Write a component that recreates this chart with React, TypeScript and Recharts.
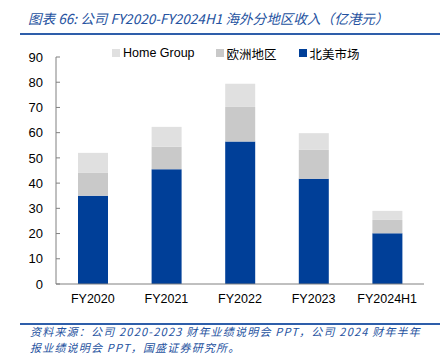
import React from 'react';
import { BarChart, Bar, XAxis, YAxis } from 'recharts';

const years = ['FY2020', 'FY2021', 'FY2022', 'FY2023', 'FY2024H1'];
const northAmerica = [35.0, 45.5, 56.5, 41.7, 20.1];
const europe = [9.2, 8.9, 13.7, 11.5, 5.3];
const homeGroup = [7.8, 7.9, 9.2, 6.6, 3.6];
const yTicks = [0, 10, 20, 30, 40, 50, 60, 70, 80, 90];

const BLUE = '#003f98';
const EU_GREY = '#c9c9c9';
const HG_GREY = '#e0e0e0';
const TEXT_BLUE = '#2552a0';
const SANS = '"Liberation Sans", Arial, sans-serif';
const CJK = '"Noto Sans CJK SC", sans-serif';

const data = years.map((y, i) => ({
  year: y,
  na: northAmerica[i],
  eu: europe[i],
  hg: homeGroup[i],
}));

const legendItems = [
  { name: 'Home Group', color: HG_GREY, font: SANS },
  { name: '欧洲地区', color: EU_GREY, font: CJK },
  { name: '北美市场', color: BLUE, font: CJK },
];

const sourceLines = [
  '资料来源：公司 2020-2023 财年业绩说明会 PPT，公司 2024 财年半年',
  '报业绩说明会 PPT，国盛证券研究所。',
];

const App = () => {
  return (
    <div style={{ position: 'fixed', left: 0, top: 0, width: 446, height: 355, background: '#fff' }}>
      <div
        style={{
          position: 'absolute', left: 28, top: 9, fontSize: 13.6, fontStyle: 'italic',
          color: TEXT_BLUE, fontFamily: CJK, whiteSpace: 'nowrap', lineHeight: '18px',
        }}
      >
        图表 66: 公司 FY2020-FY2024H1 海外分地区收入（亿港元）
      </div>
      <div style={{ position: 'absolute', left: 20, top: 33, width: 420, height: 2, background: '#2e5eaa' }} />

      <div style={{ position: 'absolute', left: 112, top: 45, display: 'flex', alignItems: 'center', height: 16 }}>
        {legendItems.map((it, i) => (
          <div key={it.name} style={{ display: 'flex', alignItems: 'center', marginRight: i === 0 ? 21 : 22 }}>
            <span style={{ width: 8, height: 8, background: it.color, display: 'inline-block', marginRight: 3 }} />
            <span style={{ fontFamily: it.font, fontSize: 12.5, color: '#000', whiteSpace: 'nowrap' }}>{it.name}</span>
          </div>
        ))}
      </div>

      <div style={{ position: 'absolute', left: 0, top: 0 }}>
        <BarChart width={446} height={320} data={data} margin={{ top: 57, right: 22, left: 26, bottom: 16 }}>
          <XAxis
            xAxisId="bounds"
            type="number"
            domain={[0, 5]}
            ticks={[0, 1, 2, 3, 4, 5]}
            tick={false}
            axisLine={false}
            tickSize={-4}
            height={0}
            stroke="#808080"
          />
          <XAxis
            dataKey="year"
            tickLine={false}
            tickSize={0}
            tickMargin={10}
            height={20}
            stroke="#808080"
            tick={{ fill: '#000', fontSize: 12.5, fontFamily: SANS }}
          />
          <YAxis
            domain={[0, 90]}
            ticks={yTicks}
            width={30}
            tickSize={-4}
            tickMargin={17}
            stroke="#808080"
            tick={{ fill: '#000', fontSize: 13, fontFamily: SANS }}
          />
          <Bar dataKey="na" stackId="a" fill={BLUE} barSize={30} isAnimationActive={false} />
          <Bar dataKey="eu" stackId="a" fill={EU_GREY} barSize={30} isAnimationActive={false} />
          <Bar dataKey="hg" stackId="a" fill={HG_GREY} barSize={30} isAnimationActive={false} />
        </BarChart>
      </div>

      <div style={{ position: 'absolute', left: 20, top: 323, width: 420, height: 2, background: '#2e5eaa' }} />
      {sourceLines.map((line, i) => (
        <div
          key={i}
          style={{
            position: 'absolute', left: 30, top: 324 + i * 16, fontSize: 11, fontStyle: 'italic',
            letterSpacing: 1.2, color: TEXT_BLUE, fontFamily: CJK, lineHeight: '14px', whiteSpace: 'nowrap',
          }}
        >
          {line}
        </div>
      ))}
    </div>
  );
};

export default App;
